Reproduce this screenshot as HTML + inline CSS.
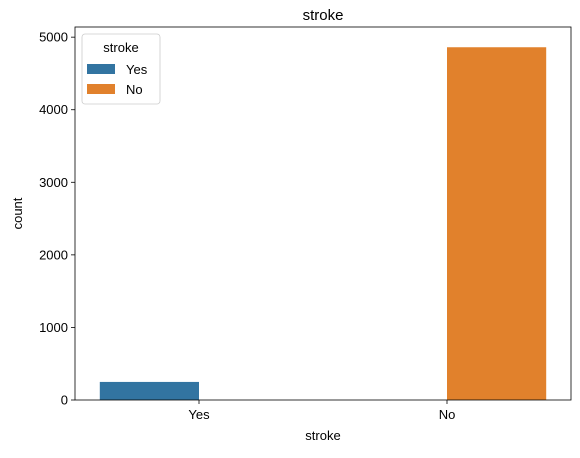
<!DOCTYPE html>
<html><head><meta charset="utf-8"><style>
body{margin:0;background:#fff;}
svg text{font-family:"Liberation Sans","DejaVu Sans",sans-serif;fill:#000;}
</style></head><body>
<svg id="chart" width="580" height="453">
<g id="plot"></g>
</svg>
<script>
const categories=["Yes","No"];
const hues=["Yes","No"];
const counts=[249,4861];
const yTicks=[0,1000,2000,3000,4000,5000];
const colors=["#3274a1","#e1812c"];
const L=75,R=571,T=27,B=400,yMax=5140;
const ns="http://www.w3.org/2000/svg";
const g=document.getElementById('plot');
function xs(v){return L+(v+0.5)/2*(R-L);}
function ys(v){return B-v/yMax*(B-T);}
function el(t,a,txt){const e=document.createElementNS(ns,t);for(const k in a)e.setAttribute(k,a[k]);if(txt!==undefined)e.textContent=txt;g.appendChild(e);return e;}
counts.forEach((c,i)=>{
  const off=i===0?-0.4:0;
  const x0=xs(i+off),x1=xs(i+off+0.4);
  const r=el('rect',{x:x0,y:ys(c),width:x1-x0,height:ys(0)-ys(c),fill:colors[i]});
  
  
});
yTicks.forEach(v=>{
  const y=ys(v);
  const l=el('line',{x1:L-4,x2:L,y1:y,y2:y,stroke:'#000','stroke-width':0.8});
  
  
  const t=el('text',{x:L-7,y:y+4.5,'text-anchor':'end','font-size':13},String(v));
  
  
});
categories.forEach((c,i)=>{
  const x=xs(i);
  const l=el('line',{x1:x,x2:x,y1:B,y2:B+4,stroke:'#000','stroke-width':0.8});
  
  
  const t=el('text',{x:x,y:B+19,'text-anchor':'middle','font-size':13},c);
  
  
});
const fr=el('rect',{x:L,y:T,width:R-L,height:B-T,fill:'none',stroke:'#000','stroke-width':0.8});


const tt=el('text',{x:(L+R)/2,y:T-7,'text-anchor':'middle','font-size':15},'stroke');


const xt=el('text',{x:(L+R)/2,y:440,'text-anchor':'middle','font-size':13},'stroke');


const yt=el('text',{x:22,y:(T+B)/2,'text-anchor':'middle','font-size':13,transform:'rotate(-90 22 '+(T+B)/2+')'},'count');


const lg=el('rect',{x:82,y:34,width:78,height:70,rx:3,fill:'#fff','fill-opacity':0.8,stroke:'#ccc','stroke-width':0.8});


const lt=el('text',{x:121,y:52,'text-anchor':'middle','font-size':13},'stroke');


hues.forEach((h,i)=>{
  const y=64+i*20;
  const p=el('rect',{x:87,y:y,width:28,height:10,fill:colors[i]});
  
  
  const t=el('text',{x:126,y:y+10,'font-size':13},h);
  
  
});
</script>
</body></html>
